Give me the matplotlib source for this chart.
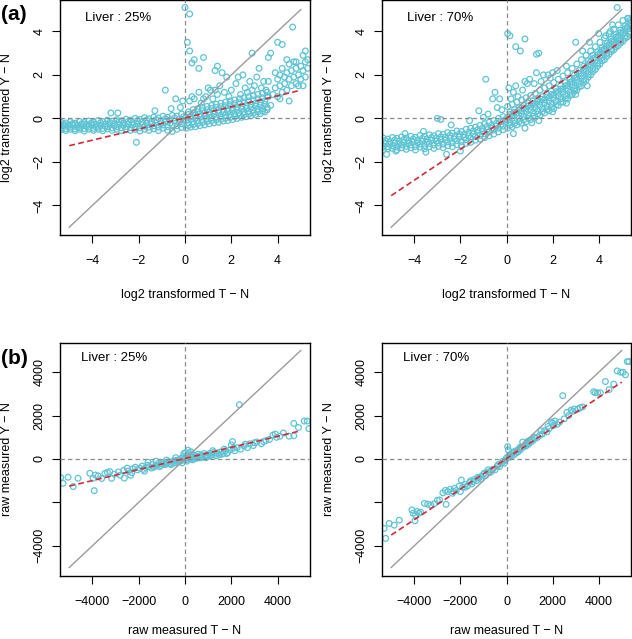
import numpy as np
import matplotlib.pyplot as plt

plt.rcParams['font.family'] = ['Liberation Sans', 'DejaVu Sans']

# ---- panel (a): log2 transformed values ----
# shared x positions for the dense band left of zero
neg_xa = [-5.35, -5.15, -4.95, -4.75, -4.55, -4.35, -4.15, -3.95, -3.75, -3.55, -3.35, -3.15, -2.95, -2.75,
          -2.55, -2.35, -2.15, -1.95, -1.75, -1.55, -1.35, -1.15, -0.95, -0.75, -0.55, -0.35, -0.15]
neg_xb = [-5.25, -5.05, -4.85, -4.65, -4.45, -4.25, -4.05, -3.85, -3.65, -3.45, -3.25, -3.05, -2.85, -2.65,
          -2.45, -2.25, -2.05, -1.85, -1.65, -1.45, -1.25, -1.05, -0.85, -0.65, -0.45, -0.25, -0.05]

# Liver 25%
a25_neg_hi = [-0.18, -0.21, -0.15, -0.22, -0.14, -0.19, -0.12, -0.18, -0.10, -0.15, -0.08, -0.13, -0.06, -0.11,
              -0.04, -0.08, 0.00, -0.05, 0.03, -0.02, 0.06, 0.02, 0.10, 0.05, 0.14, 0.10, 0.20]
a25_neg_q1 = [-0.27, -0.29, -0.23, -0.31, -0.24, -0.28, -0.21, -0.28, -0.20, -0.26, -0.18, -0.24, -0.16, -0.21,
              -0.14, -0.19, -0.10, -0.17, -0.08, -0.15, -0.06, -0.12, -0.02, -0.08, 0.02, -0.04, 0.08]
a25_neg_mid = [-0.35, -0.39, -0.30, -0.41, -0.33, -0.37, -0.30, -0.39, -0.32, -0.36, -0.28, -0.34, -0.27, -0.31,
               -0.26, -0.30, -0.24, -0.29, -0.22, -0.27, -0.20, -0.25, -0.16, -0.22, -0.12, -0.19, -0.08]
a25_neg_q2 = [-0.44, -0.47, -0.41, -0.49, -0.42, -0.47, -0.40, -0.46, -0.41, -0.46, -0.38, -0.44, -0.38, -0.43,
              -0.37, -0.42, -0.37, -0.43, -0.36, -0.40, -0.34, -0.40, -0.30, -0.38, -0.30, -0.34, -0.25]
a25_neg_lo = [-0.52, -0.56, -0.50, -0.57, -0.50, -0.58, -0.49, -0.55, -0.50, -0.57, -0.48, -0.55, -0.50, -0.56,
              -0.48, -0.55, -0.50, -0.58, -0.50, -0.55, -0.48, -0.56, -0.45, -0.55, -0.60, -0.50, -0.42]
a25_pos_xa = [0.05, 0.25, 0.45, 0.65, 0.85, 1.05, 1.25, 1.45, 1.65, 1.85, 2.05, 2.25, 2.45, 2.65, 2.85, 3.05, 3.25, 3.45]
a25_pos_xb = [0.15, 0.35, 0.55, 0.75, 0.95, 1.15, 1.35, 1.55, 1.75, 1.95, 2.15, 2.35, 2.55, 2.75, 2.95, 3.15, 3.35, 3.55]
a25_pos_r1 = [-0.45, -0.40, -0.38, -0.33, -0.30, -0.25, -0.20, -0.18, -0.12, -0.10, -0.05, 0.00, 0.05, 0.08, 0.12, 0.18, 0.22, 0.30]
a25_pos_s1 = [-0.33, -0.28, -0.24, -0.19, -0.15, -0.11, -0.06, -0.04, 0.01, 0.04, 0.08, 0.12, 0.17, 0.20, 0.25, 0.30, 0.33, 0.40]
a25_pos_r2 = [-0.20, -0.15, -0.10, -0.05, 0.00, 0.03, 0.08, 0.10, 0.15, 0.18, 0.22, 0.25, 0.30, 0.33, 0.38, 0.42, 0.45, 0.50]
a25_pos_s2 = [-0.08, -0.03, 0.02, 0.08, 0.12, 0.16, 0.21, 0.24, 0.28, 0.32, 0.36, 0.39, 0.43, 0.46, 0.51, 0.56, 0.60, 0.65]
a25_pos_r3 = [0.05, 0.10, 0.15, 0.20, 0.25, 0.30, 0.35, 0.38, 0.42, 0.46, 0.50, 0.53, 0.56, 0.60, 0.65, 0.70, 0.75, 0.80]
a25_pos_s3 = [0.18, 0.25, 0.30, 0.35, 0.40, 0.45, 0.50, 0.54, 0.58, 0.63, 0.68, 0.72, 0.76, 0.80, 0.85, 0.90, 0.95, 1.00]
a25_pos_r4 = [0.30, 0.40, 0.45, 0.50, 0.55, 0.60, 0.65, 0.70, 0.75, 0.80, 0.85, 0.90, 0.95, 1.00, 1.05, 1.10, 1.15, 1.20]
a25_extra = [(-3.2, 0.25), (-2.9, 0.25), (-0.85, 1.3), (-2.1, -1.1), (-1.3, 0.35), (-0.4, 0.9), (-0.2, 0.5),
             (-0.6, 0.45), (-0.1, 0.8), (0.6, 1.2), (0.9, 1.0), (1.0, 1.4), (1.1, 1.3), (1.2, 0.9), (1.4, 1.1),
             (1.5, 1.5), (1.7, 1.2), (1.9, 1.0), (2.0, 1.3), (2.2, 1.6), (2.3, 1.9), (2.4, 1.1), (2.6, 1.4),
             (2.7, 1.2), (2.8, 1.7), (2.9, 1.3), (3.0, 1.5), (3.1, 1.9), (3.3, 1.4), (3.4, 1.7), (3.5, 1.3),
             (3.6, 1.0), (3.2, 2.3), (2.5, 2.0), (1.8, 1.9), (1.6, 2.1), (1.3, 1.3), (0.4, 0.9), (0.2, 0.8),
             (0.3, 1.0), (0.7, 0.7), (0.8, 0.9), (3.7, 0.6), (3.8, 1.1), (3.9, 1.4), (4.0, 1.8), (4.0, 1.0),
             (4.1, 2.0), (4.1, 1.5), (4.2, 2.3), (4.2, 1.2), (4.3, 1.9), (4.3, 1.6), (4.4, 2.1), (4.4, 1.3),
             (4.5, 1.8), (4.5, 2.5), (4.6, 1.5), (4.6, 2.2), (4.7, 1.9), (4.7, 2.6), (4.8, 1.6), (4.8, 2.3),
             (4.9, 2.0), (4.9, 1.5), (5.0, 2.4), (5.0, 1.8), (5.1, 2.2), (5.1, 1.5), (5.2, 2.6), (5.2, 1.9),
             (5.3, 2.3), (4.5, 0.8), (4.1, 0.9), (3.9, 2.1), (3.6, 1.7), (5.1, 2.9), (5.2, 3.1), (5.3, 2.7),
             (4.4, 2.7), (4.8, 2.6), (4.65, 4.2), (4.0, 3.5), (4.2, 3.4), (3.6, 2.8), (3.7, 3.0), (2.9, 3.0),
             (1.3, 2.2), (1.4, 2.4), (0.8, 2.8), (0.6, 2.3), (0.4, 2.7), (0.3, 2.55), (0.2, 3.1), (0.1, 3.5),
             (0.2, 4.8), (0.0, 5.1)]

# Liver 70%
a70_neg_hi = [-0.90, -0.95, -0.88, -0.92, -0.85, -0.90, -0.82, -0.87, -0.78, -0.83, -0.75, -0.80, -0.70, -0.74,
              -0.65, -0.68, -0.58, -0.60, -0.50, -0.45, -0.40, -0.32, -0.25, -0.18, -0.10, 0.00, 0.08]
a70_neg_q1 = [-1.02, -1.08, -1.00, -1.05, -0.97, -1.02, -0.95, -1.00, -0.92, -0.96, -0.88, -0.92, -0.84, -0.87,
              -0.78, -0.82, -0.72, -0.74, -0.65, -0.58, -0.53, -0.46, -0.38, -0.31, -0.23, -0.14, -0.05]
a70_neg_mid = [-1.15, -1.20, -1.12, -1.18, -1.10, -1.15, -1.08, -1.13, -1.05, -1.10, -1.00, -1.05, -0.98, -1.00,
               -0.92, -0.95, -0.86, -0.88, -0.80, -0.72, -0.66, -0.60, -0.52, -0.45, -0.36, -0.28, -0.18]
a70_neg_q2 = [-1.30, -1.30, -1.25, -1.32, -1.22, -1.28, -1.22, -1.29, -1.18, -1.25, -1.15, -1.22, -1.13, -1.18,
              -1.08, -1.12, -1.03, -1.06, -0.98, -0.91, -0.83, -0.78, -0.70, -0.62, -0.54, -0.45, -0.35]
a70_neg_lo = [-1.45, -1.40, -1.38, -1.45, -1.35, -1.42, -1.35, -1.45, -1.32, -1.40, -1.30, -1.38, -1.28, -1.35,
              -1.25, -1.30, -1.20, -1.25, -1.15, -1.10, -1.00, -0.95, -0.88, -0.80, -0.72, -0.62, -0.52]
a70_pos_xa = [0.05, 0.25, 0.45, 0.65, 0.85, 1.05, 1.25, 1.45, 1.65, 1.85, 2.05, 2.25, 2.45, 2.65, 2.85, 3.05,
              3.25, 3.45, 3.65, 3.85, 4.05, 4.25, 4.45, 4.65, 4.85, 5.05, 5.25]
a70_pos_xb = [0.15, 0.35, 0.55, 0.75, 0.95, 1.15, 1.35, 1.55, 1.75, 1.95, 2.15, 2.35, 2.55, 2.75, 2.95, 3.15,
              3.35, 3.55, 3.75, 3.95, 4.15, 4.35, 4.55, 4.75, 4.95, 5.15, 5.35]
a70_pos_r1 = [-0.45, -0.38, -0.30, -0.22, -0.15, -0.05, 0.05, 0.15, 0.25, 0.35, 0.45, 0.60, 0.75, 0.90, 1.10, 1.30,
              1.50, 1.75, 2.00, 2.25, 2.50, 2.70, 2.95, 3.15, 3.35, 3.55, 3.75]
a70_pos_s1 = [-0.32, -0.24, -0.15, -0.07, 0.00, 0.10, 0.20, 0.30, 0.40, 0.50, 0.62, 0.75, 0.90, 1.05, 1.25, 1.45,
              1.65, 1.90, 2.15, 2.40, 2.65, 2.85, 3.08, 3.28, 3.48, 3.68, 3.88]
a70_pos_r2 = [-0.20, -0.10, 0.00, 0.08, 0.15, 0.25, 0.35, 0.45, 0.55, 0.65, 0.78, 0.90, 1.05, 1.20, 1.40, 1.60,
              1.80, 2.05, 2.30, 2.55, 2.80, 3.00, 3.20, 3.40, 3.60, 3.80, 4.00]
a70_pos_s2 = [-0.08, 0.02, 0.12, 0.22, 0.30, 0.40, 0.50, 0.60, 0.70, 0.80, 0.93, 1.05, 1.20, 1.35, 1.55, 1.75,
              1.95, 2.20, 2.45, 2.68, 2.90, 3.10, 3.30, 3.50, 3.70, 3.90, 4.10]
a70_pos_r3 = [0.05, 0.15, 0.25, 0.35, 0.45, 0.55, 0.65, 0.75, 0.85, 0.95, 1.08, 1.20, 1.35, 1.50, 1.70, 1.90,
              2.10, 2.35, 2.60, 2.80, 3.00, 3.20, 3.40, 3.60, 3.80, 4.00, 4.20]
a70_pos_s3 = [0.18, 0.28, 0.38, 0.48, 0.58, 0.68, 0.78, 0.88, 0.98, 1.10, 1.23, 1.35, 1.50, 1.65, 1.85, 2.05,
              2.25, 2.50, 2.75, 2.93, 3.13, 3.33, 3.53, 3.73, 3.93, 4.13, 4.30]
a70_pos_r4 = [0.30, 0.40, 0.50, 0.60, 0.70, 0.80, 0.90, 1.00, 1.10, 1.25, 1.38, 1.50, 1.65, 1.80, 2.00, 2.20,
              2.40, 2.65, 2.90, 3.05, 3.25, 3.45, 3.65, 3.85, 4.05, 4.25, 4.40]
a70_pos_r5 = [0.55, 0.65, 0.75, 0.85, 0.95, 1.05, 1.15, 1.30, 1.40, 1.50, 1.65, 1.80, 1.95, 2.10, 2.30, 2.50,
              2.70, 2.90, 3.10, 3.30, 3.50, 3.70, 3.90, 4.10, 4.30, 4.50, 4.60]
a70_extra = [(-3.0, 0.0), (-2.85, -0.05), (-1.2, 0.35), (-1.6, -0.1), (-2.4, -0.3), (-3.6, -0.6), (-4.4, -0.7),
             (-0.9, 1.8), (-0.5, 1.2), (-0.6, 0.9), (-0.3, 0.9), (-0.4, 0.5), (-0.8, 0.2), (-1.0, 0.05),
             (-0.2, 0.4), (-5.2, -1.65), (-4.8, -1.5), (-3.5, -1.55), (-2.6, -1.65), (-2.0, -1.5),
             (0.05, 3.9), (0.15, 3.8), (0.4, 3.3), (0.6, 3.1), (0.8, 3.65), (1.3, 2.95), (1.4, 3.0), (0.1, 1.4),
             (1.3, 2.1), (1.0, 1.8), (0.8, 1.7), (0.9, 1.6), (1.5, 1.7), (1.6, 2.0), (0.3, 1.2), (0.5, 1.0),
             (0.2, 0.9), (1.2, 1.6), (1.8, 2.0), (2.0, 2.1), (1.9, 1.85), (0.7, 1.3), (0.4, 1.5), (2.6, 2.4),
             (2.2, 2.2), (3.0, 3.5), (3.3, 3.1), (3.6, 3.5), (4.0, 3.9), (4.3, 3.8), (4.8, 5.1), (5.3, 4.6),
             (5.35, 4.5), (4.6, 4.3), (4.5, 4.0), (0.3, -0.7), (0.8, -0.45), (1.4, -0.1), (2.0, 0.3),
             (2.6, 0.7), (3.0, 1.1), (3.5, 1.5), (1.1, -0.2)]

# ---- panel (b): raw measured values ----
b25_pts = [(-5370, -860), (-5270, -1120), (-5050, -840), (-4830, -1270), (-4620, -890), (-4110, -660),
           (-3970, -890), (-3920, -1460), (-3870, -740), (-3750, -780), (-3600, -900), (-3460, -660),
           (-3350, -620), (-3250, -580), (-3170, -890), (-3050, -700), (-2870, -600), (-2800, -750),
           (-2650, -520), (-2620, -880), (-2500, -420), (-2450, -560), (-2350, -750), (-2300, -630),
           (-2250, -450), (-2150, -380), (-2050, -500), (-1950, -430), (-1850, -330), (-1800, -480),
           (-1750, -560), (-1700, -400), (-1620, -290), (-1600, -150), (-1550, -350), (-1450, -420),
           (-1400, -250), (-1350, -380), (-1300, -330), (-1250, -100), (-1200, -280), (-1150, -200),
           (-1100, -350), (-1050, -300), (-1000, -230), (-920, -150), (-900, -220), (-850, -260),
           (-800, -50), (-780, -190), (-700, -120), (-650, -230), (-600, -260), (-580, -160), (-500, -90),
           (-450, -180), (-400, 60), (-380, -60), (-320, -140), (-300, -90), (-250, -30), (-200, -100),
           (-150, 40), (-120, -180), (-100, -50), (-50, 120), (-50, 250), (0, 20), (30, 300), (60, -30),
           (80, -100), (100, 80), (130, 400), (150, 250), (170, 40), (200, 10), (220, 150), (250, 330),
           (260, -10), (300, 100), (330, -40), (350, 200), (400, 60), (450, 150), (480, 20), (500, 90),
           (560, 220), (600, 120), (650, 50), (700, 180), (700, 80), (760, 100), (820, 250), (880, 150),
           (900, 60), (950, 200), (1000, 120), (1080, 260), (1100, 150), (1150, 180), (1200, 380),
           (1230, 300), (1300, 220), (1350, 150), (1400, 280), (1480, 200), (1550, 330), (1600, 220),
           (1650, 260), (1700, 450), (1750, 380), (1800, 250), (1850, 300), (1950, 420), (2000, 650),
           (2050, 800), (2100, 500), (2150, 380), (2250, 520), (2350, 2500), (2400, 450), (2550, 600),
           (2600, 680), (2700, 520), (2800, 700), (2950, 620), (3000, 750), (3100, 780), (3300, 700),
           (3400, 800), (3500, 850), (3650, 900), (3800, 1100), (3900, 1150), (3950, 1000), (4100, 1050),
           (4250, 1200), (4500, 1050), (4700, 1070), (4700, 1640), (4900, 1450), (5150, 1750), (5280, 1750),
           (5350, 1400)]
b70_pts = [(-5310, -3200), (-5240, -3660), (-5090, -2970), (-4870, -3050), (-4650, -2820), (-4100, -2350),
           (-4050, -2500), (-3970, -2850), (-3950, -2580), (-3880, -2420), (-3800, -2500), (-3730, -2450),
           (-3560, -2050), (-3420, -2080), (-3280, -2120), (-3130, -2060), (-3000, -1900), (-2900, -1890),
           (-2760, -1560), (-2650, -1450), (-2620, -2090), (-2550, -1500), (-2450, -1400), (-2350, -1580),
           (-2300, -1500), (-2250, -1350), (-2180, -1450), (-2050, -1250), (-2000, -1500), (-1960, -970),
           (-1900, -1300), (-1800, -1180), (-1800, -1300), (-1700, -1250), (-1600, -1080), (-1550, -1000),
           (-1500, -1150), (-1450, -1050), (-1400, -950), (-1300, -1000), (-1250, -850), (-1200, -880),
           (-1100, -920), (-1100, -800), (-1000, -700), (-950, -650), (-900, -760), (-800, -600),
           (-800, -500), (-700, -620), (-650, -520), (-600, -480), (-500, -500), (-400, -330), (-350, -250),
           (-300, -350), (-200, -180), (-150, -100), (-100, -200), (-50, -60), (0, 50), (50, 570), (80, 420),
           (100, 130), (120, 80), (150, 200), (200, 150), (250, 300), (300, 180), (300, 300), (350, 350),
           (400, 260), (450, 400), (500, 330), (550, 480), (600, 420), (600, 550), (650, 520), (700, 780),
           (750, 560), (800, 650), (850, 600), (900, 720), (900, 800), (950, 680), (1000, 850), (1050, 780),
           (1100, 900), (1150, 850), (1200, 1000), (1250, 950), (1350, 1000), (1450, 1100), (1500, 1300),
           (1550, 1150), (1650, 1300), (1750, 1250), (1800, 1500), (1850, 1400), (1950, 1700), (2000, 1650),
           (2050, 1550), (2100, 1750), (2200, 1600), (2300, 1700), (2440, 2920), (2500, 1850), (2620, 2150),
           (2700, 2000), (2800, 2250), (2870, 2200), (2950, 2300), (3100, 2300), (3200, 2370), (3300, 2400),
           (3780, 3100), (3850, 3050), (3950, 3050), (4070, 3050), (4290, 3570), (4450, 3200), (4650, 3450),
           (4800, 4060), (4950, 4000), (5050, 4000), (5160, 3880), (5240, 4490), (5310, 4490)]

# fitted regression lines (slope, intercept)
fit_a25 = (0.255, 0.02)
fit_a70 = (0.71, 0.0)
fit_b25 = (0.255, 25)
fit_b70 = (0.705, 20)

log_ticks = [-4, -2, 0, 2, 4]
log_labels = ['\u22124', '\u22122', '0', '2', '4']
raw_ticks = [-4000, -2000, 0, 2000, 4000]
raw_xlabels = ['\u22124000', '\u22122000', '0', '2000', '4000']
raw_ylabels = ['\u22124000', '', '0', '2000', '4000']

pt_color = '#5ec4d4'
red = '#d42a3a'
gray = '#9b9b9b'


def band(xs, ys):
    return list(zip(xs, ys))


a25_pts = (band(neg_xa, a25_neg_hi) + band(neg_xb, a25_neg_q1) + band(neg_xb, a25_neg_mid)
           + band(neg_xa, a25_neg_q2) + band(neg_xa, a25_neg_lo)
           + band(a25_pos_xa, a25_pos_r1) + band(a25_pos_xb, a25_pos_s1) + band(a25_pos_xb, a25_pos_r2)
           + band(a25_pos_xa, a25_pos_s2) + band(a25_pos_xa, a25_pos_r3) + band(a25_pos_xb, a25_pos_s3)
           + band(a25_pos_xb, a25_pos_r4) + a25_extra)
a70_pts = (band(neg_xa, a70_neg_hi) + band(neg_xb, a70_neg_q1) + band(neg_xb, a70_neg_mid)
           + band(neg_xa, a70_neg_q2) + band(neg_xa, a70_neg_lo)
           + band(a70_pos_xa, a70_pos_r1) + band(a70_pos_xb, a70_pos_s1) + band(a70_pos_xb, a70_pos_r2)
           + band(a70_pos_xa, a70_pos_s2) + band(a70_pos_xa, a70_pos_r3) + band(a70_pos_xb, a70_pos_s3)
           + band(a70_pos_xb, a70_pos_r4) + band(a70_pos_xa, a70_pos_r5) + a70_extra)


def panel(ax, pts, fit, lim, ylim, ext, ticks, xlabels, ylabels, title, tpos, xlabel, ylabel, xpad):
    p = np.array(pts, dtype=float)
    ax.scatter(p[:, 0], p[:, 1], s=17, facecolors='none', edgecolors=pt_color, linewidths=0.9, zorder=2)
    ax.plot([-ext, ext], [-ext, ext], color=gray, lw=1.0, zorder=3)
    ax.axhline(0, color='#8a8a8a', lw=0.9, ls=(0, (3.5, 2.5)), zorder=3)
    ax.axvline(0, color='#8a8a8a', lw=0.9, ls=(0, (3.5, 2.5)), zorder=3)
    xs = np.array([-ext, ext])
    ax.plot(xs, fit[0] * xs + fit[1], color=red, lw=1.2, ls=(0, (3.5, 2)), zorder=4)
    ax.set_xlim(-lim, lim)
    ax.set_ylim(*ylim)
    ax.set_xticks(ticks, xlabels)
    ax.set_yticks(ticks, ylabels)
    for lbl in ax.get_yticklabels():
        lbl.set_rotation(90)
        lbl.set_va('center')
    ax.tick_params(direction='out', length=5.5, width=0.8, labelsize=9, pad=9)
    ax.tick_params(axis='y', pad=5)
    for s in ax.spines.values():
        s.set_linewidth(1.0)
    ax.text(tpos[0], tpos[1], title, fontsize=9.5, va='center', ha='left')
    ax.set_xlabel(xlabel, fontsize=9, labelpad=xpad)
    ax.set_ylabel(ylabel, fontsize=9, labelpad=15)


fig = plt.figure(figsize=(6.32, 6.39), dpi=100)
W, H = 632.0, 639.0
top_b, top_h = (639 - 235) / H, 234.5 / H
bot_b, bot_h = (639 - 575.7) / H, 233.0 / H
ax1 = fig.add_axes([60 / W, top_b, 250 / W, top_h])
ax2 = fig.add_axes([382 / W, top_b, 249 / W, top_h])
ax3 = fig.add_axes([60 / W, bot_b, 250 / W, bot_h])
ax4 = fig.add_axes([382 / W, bot_b, 249 / W, bot_h])

panel(ax1, a25_pts, fit_a25, 5.4, (-5.36, 5.42), 5, log_ticks, log_labels, log_labels, 'Liver : 25%',
      (-4.33, 4.6), 'log2 transformed T \u2212 N', 'log2 transformed Y \u2212 N', 16)
panel(ax2, a70_pts, fit_a70, 5.4, (-5.36, 5.42), 5, log_ticks, log_labels, log_labels, 'Liver : 70%',
      (-4.33, 4.6), 'log2 transformed T \u2212 N', 'log2 transformed Y \u2212 N', 16)
panel(ax3, b25_pts, fit_b25, 5400, (-5380, 5360), 5000, raw_ticks, raw_xlabels, raw_ylabels, 'Liver : 25%',
      (-4500, 4650), 'raw measured T \u2212 N', 'raw measured Y \u2212 N', 12)
panel(ax4, b70_pts, fit_b70, 5400, (-5380, 5360), 5000, raw_ticks, raw_xlabels, raw_ylabels, 'Liver : 70%',
      (-4500, 4650), 'raw measured T \u2212 N', 'raw measured Y \u2212 N', 12)

fig.text(1 / W, 1 - 15 / H, '(a)', fontsize=15, fontweight='bold', va='center', ha='left')
fig.text(1 / W, 1 - 359 / H, '(b)', fontsize=15, fontweight='bold', va='center', ha='left')

fig.savefig('out.png', dpi=100)
